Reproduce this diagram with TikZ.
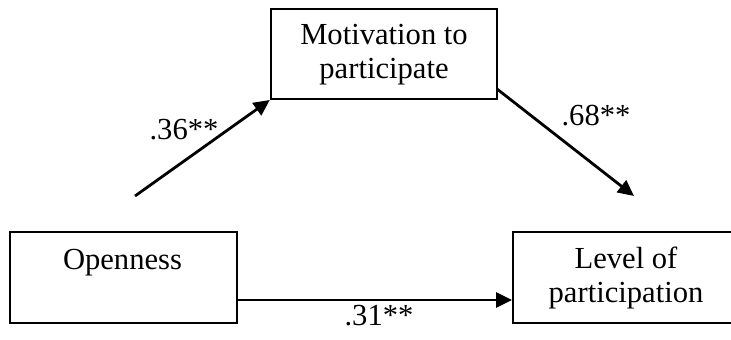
\documentclass[tikz,border=0pt]{standalone}
\usepackage{fontspec}
\setmainfont{Liberation Serif}
\usetikzlibrary{arrows.meta}
\begin{document}
\begin{tikzpicture}[x=0.5pt,y=-0.5pt,
  box/.style={draw=black,line width=1pt,rectangle,inner sep=0pt},
  txt/.style={inner sep=0pt,font=\fontsize{15.3}{17}\selectfont,align=center},
  lbl/.style={inner sep=0pt,font=\fontsize{15.3}{17}\selectfont,anchor=base},
  arr/.style={line width=1.4pt,-{Triangle[length=8pt,width=7.5pt]}}]
\useasboundingbox (0,0) rectangle (731,339);
\begin{scope}
\clip (0,0) rectangle (731,339);
\node[box,minimum width=226.5pt*0.5,minimum height=90pt*0.5] (mot) at (384,54) {};
\node[box,minimum width=227pt*0.5,minimum height=91pt*0.5] (open) at (123.5,277.5) {};
\node[box,minimum width=250pt*0.5,minimum height=91pt*0.5] (lev) at (638,277.5) {};
\end{scope}
\node[txt] (mottxt) at (384,55) {Motivation to\\participate};
\node[lbl] (opentxt) at (122.5,269) {Openness};
\node[txt] (levtxt) at (626,278) {Level of\\participation};
\coordinate (a1s) at (135,196);
\coordinate (a2s) at (497,89);
\coordinate (a2e) at (634,196);
\coordinate (hs) at (237,300);
\draw[arr] (a1s) -- (mot.south west);
\draw[arr] (a2s) -- (a2e);
\draw[arr] (hs) -- (lev.west |- hs);
\node[lbl] (l36) at (184,139) {.36**};
\node[lbl] (l68) at (596,125) {.68**};
\node[lbl] (l31) at (379,325) {.31**};
\end{tikzpicture}
\end{document}
